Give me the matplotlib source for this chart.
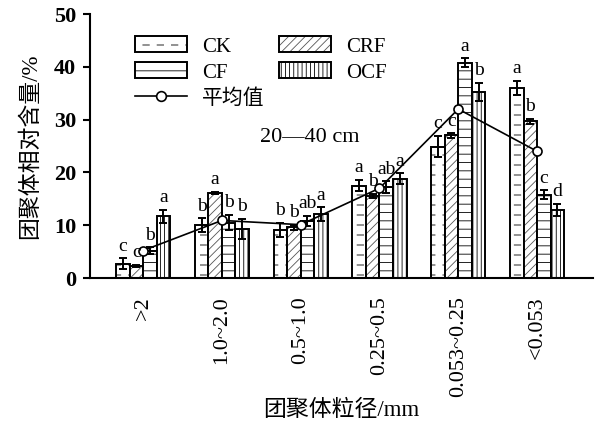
import warnings
warnings.filterwarnings("ignore")
import numpy as np
import matplotlib
matplotlib.use("Agg")
import matplotlib.pyplot as plt
import matplotlib.hatch as mhatch
from matplotlib.path import Path
from matplotlib.patches import Patch
from matplotlib.lines import Line2D
from matplotlib.transforms import IdentityTransform

# ---------------- data ----------------
categories = [">2", "1.0~2.0", "0.5~1.0", "0.25~0.5", "0.053~0.25", "<0.053"]
series_names = ["CK", "CRF", "CF", "OCF"]
ck = [2.7, 10.0, 9.1, 17.5, 24.9, 36.0]
crf = [2.3, 16.1, 9.6, 15.5, 27.0, 29.7]
cf = [5.2, 10.5, 10.8, 17.2, 40.8, 15.8]
ocf = [11.7, 9.3, 12.1, 18.8, 35.3, 12.9]
ck_err = [1.0, 1.3, 1.3, 1.1, 2.0, 1.4]
crf_err = [0.2, 0.2, 0.5, 0.4, 0.4, 0.5]
cf_err = [0.6, 1.5, 1.0, 1.1, 0.8, 0.8]
ocf_err = [1.2, 1.9, 1.3, 1.0, 1.7, 1.2]
mean_vals = [5.2, 10.9, 10.1, 17.0, 32.0, 24.0]
ck_lab = ["c", "b", "b", "a", "c", "a"]
crf_lab = ["c", "a", "b", "b", "c", "b"]
cf_lab = ["b", "b", "ab", "ab", "a", "c"]
ocf_lab = ["a", "b", "a", "a", "b", "d"]
yticks = [0, 10, 20, 30, 40, 50]
depth_text = "20\u201440 cm"
ylabel = "团聚体相对含量/%"
xlabel = "团聚体粒径/mm"
mean_label = "平均值"


# ---------------- custom dashed hatch for CK ----------------
class DashHatch(mhatch.HatchPatternBase):
    def __init__(self, hatch, density):
        n = hatch.count('d')
        self.rows = int(n * density * 1.7)
        self.cols = 7 if n else 0
        self.num_vertices = self.rows * self.cols * 2

    def set_vertices_and_codes(self, vertices, codes):
        ys = (np.arange(self.rows) + 0.5) / self.rows
        period = 1.0 / self.cols
        k = 0
        for y in ys:
            for c in range(self.cols):
                x0 = c * period
                vertices[k] = (x0, y)
                vertices[k + 1] = (x0 + period * 0.45, y)
                codes[k] = Path.MOVETO
                codes[k + 1] = Path.LINETO
                k += 2


mhatch._hatch_types.append(DashHatch)

plt.rcParams['font.family'] = ['Liberation Serif', 'Noto Sans CJK SC']
plt.rcParams['hatch.linewidth'] = 0.6
plt.rcParams['hatch.color'] = 'black'

fig = plt.figure(figsize=(6.05, 4.24), dpi=100)
ax = fig.add_axes([90 / 605, (424 - 278) / 424, (593 - 90) / 605, (278 - 14) / 424])

x = np.arange(len(categories))
w = 0.172
offsets = [-1.5 * w, -0.5 * w, 0.5 * w, 1.5 * w]
vals = [ck, crf, cf, ocf]
errs = [ck_err, crf_err, cf_err, ocf_err]
labs = [ck_lab, crf_lab, cf_lab, ocf_lab]
hatches = ['d', '////', '--', '||||']
hatch_colors = ['black', '#555555', 'black', 'black']
handles = []
for i in range(4):
    bars = ax.bar(x + offsets[i], vals[i], w, facecolor='white', edgecolor='black',
                  linewidth=1.4, hatch=hatches[i], zorder=2)
    for b in bars:
        b._hatch_color = matplotlib.colors.to_rgba(hatch_colors[i])
    ax.errorbar(x + offsets[i], vals[i], yerr=errs[i], fmt='none', ecolor='black',
                elinewidth=1.4, capsize=3, capthick=1.4, zorder=3)
    for xi, v, e, t in zip(x + offsets[i], vals[i], errs[i], labs[i]):
        ax.text(xi, v + e + 0.7, t, ha='center', va='bottom', fontsize=14, zorder=5)
    hp = Patch(facecolor='white', edgecolor='black', linewidth=1.4,
               hatch=hatches[i], label=series_names[i])
    hp._hatch_color = matplotlib.colors.to_rgba(hatch_colors[i])
    handles.append(hp)

ax.plot(x, mean_vals, color='black', lw=1.2, marker='o', ms=6.5,
        mfc='white', mec='black', mew=1.2, zorder=4)
mean_handle = Line2D([], [], color='black', lw=1.2, marker='o', ms=7,
                     mfc='white', mec='black', mew=1.2, label=mean_label)

ax.set_xlim(-0.674, 5.71)
ax.set_ylim(0, 50)
ax.set_yticks(yticks)
ax.set_xticks(x)
ax.set_xticklabels(categories, rotation=90)
for s in ['top', 'right']:
    ax.spines[s].set_visible(False)
for s in ['left', 'bottom']:
    ax.spines[s].set_linewidth(1.5)
ax.tick_params(axis='y', direction='out', length=5, width=1.5, labelsize=16, pad=5)
ax.tick_params(axis='x', length=0, labelsize=16, pad=13)
for lab in ax.get_yticklabels():
    lab.set_fontweight('bold')

ax.set_ylabel(ylabel, fontsize=16.5, labelpad=9)
ax.set_xlabel(xlabel, fontsize=16.5, labelpad=2)
ax.text(260, 424 - 138, depth_text, transform=IdentityTransform(), fontsize=16,
        va='center')

ax.legend([handles[0], handles[2], mean_handle, handles[1], handles[3]],
          ["CK", "CF", mean_label, "CRF", "OCF"],
          ncol=2, loc='upper left', bbox_to_anchor=(0.09, 0.915),
          frameon=False, fontsize=15, handlelength=2.5, handleheight=0.8,
          handletextpad=0.7, columnspacing=0.7, labelspacing=0.28,
          borderaxespad=0, borderpad=0)

fig.savefig("out.png", dpi=100)
